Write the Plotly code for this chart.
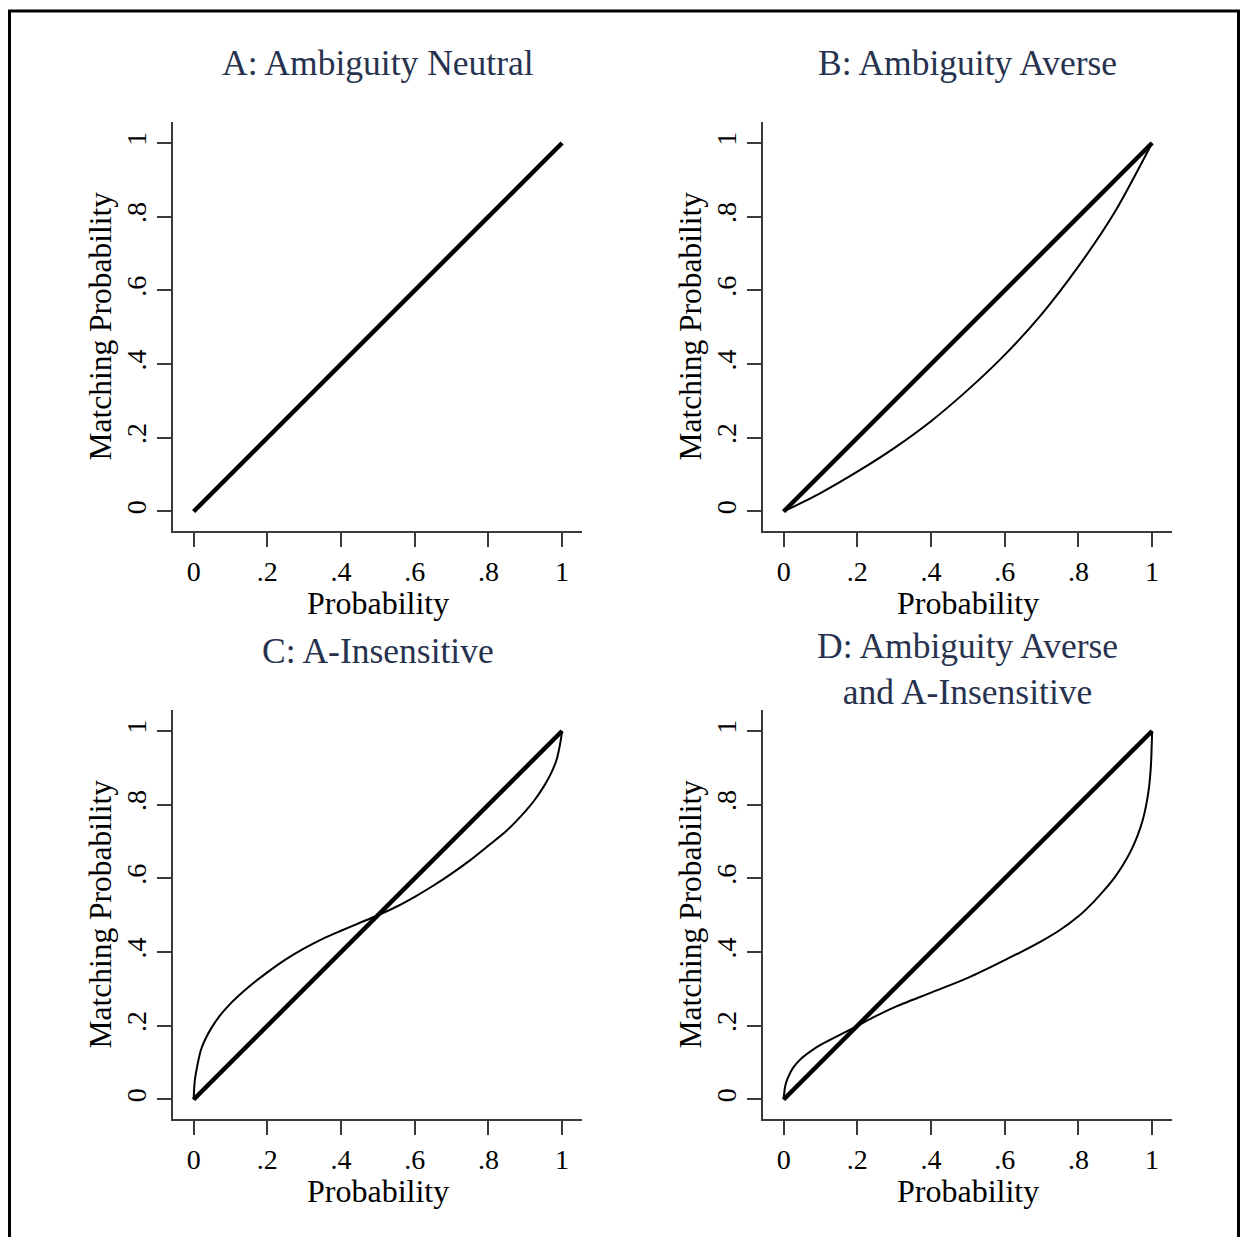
import plotly.graph_objects as go

# ---------------- data ----------------
diag_p = [0, 1]
diag_m = [0, 1]

averse_p = [0, 0.1, 0.2, 0.3, 0.4, 0.5, 0.6, 0.7, 0.8, 0.9, 1.0]
averse_m = [0, 0.05, 0.108, 0.172, 0.245, 0.33, 0.425, 0.535, 0.665, 0.815, 1.0]

insens_p = [0, 0.003, 0.01, 0.02, 0.03, 0.05, 0.075, 0.1, 0.125, 0.15, 0.2, 0.25, 0.3, 0.35,
            0.4, 0.45, 0.5, 0.55, 0.6, 0.65, 0.7, 0.75, 0.8, 0.85, 0.9, 0.925, 0.95, 0.97,
            0.985, 0.995, 1.0]
insens_m = [0, 0.05, 0.092, 0.135, 0.16, 0.197, 0.232, 0.26, 0.284, 0.306, 0.345, 0.38, 0.41, 0.436,
            0.458, 0.479, 0.5, 0.523, 0.55, 0.58, 0.613, 0.649, 0.689, 0.73, 0.782, 0.812, 0.849,
            0.885, 0.922, 0.967, 1.0]

both_p = [0, 0.004, 0.01, 0.025, 0.05, 0.075, 0.1, 0.15, 0.2, 0.25, 0.3, 0.4, 0.5, 0.6, 0.7,
          0.75, 0.8, 0.84, 0.87, 0.9, 0.92, 0.94, 0.96, 0.975, 0.985, 0.992, 0.997, 1.0]
both_m = [0, 0.035, 0.055, 0.085, 0.113, 0.132, 0.148, 0.174, 0.2, 0.226, 0.25, 0.29, 0.33,
          0.378, 0.43, 0.46, 0.497, 0.535, 0.568, 0.605, 0.635, 0.67, 0.715, 0.76, 0.805,
          0.85, 0.91, 1.0]

tick_vals = [0, 0.2, 0.4, 0.6, 0.8, 1]
tick_text = ["0", ".2", ".4", ".6", ".8", "1"]

panel_titles = ["A: Ambiguity Neutral", "B: Ambiguity Averse", "C: A-Insensitive",
                "D: Ambiguity Averse<br>and A-Insensitive"]
x_title = "Probability"
y_title = "Matching Probability"

# ---------------- layout geometry ----------------
W, H = 1241, 1237
SERIF = "Liberation Serif, Times New Roman, serif"
TITLE_COLOR = "#27324f"
AXIS_COLOR = "#3a3a3a"

def fx(px):
    return px / W

def fy(py):
    return 1 - py / H

# (axis suffix, x pixel span, y pixel span)
panels = [
    ("", (173, 582), (122, 531)),
    ("2", (763, 1172), (122, 531)),
    ("3", (173, 582), (710, 1119)),
    ("4", (763, 1172), (710, 1119)),
]

fig = go.Figure()

curves = [
    [],
    [(averse_p, averse_m)],
    [(insens_p, insens_m)],
    [(both_p, both_m)],
]

for i, (suf, (x0, x1), (y0, y1)) in enumerate(panels):
    xa = "x" + suf
    ya = "y" + suf
    for (px, pm) in curves[i]:
        fig.add_trace(go.Scatter(x=px, y=pm, mode="lines", xaxis=xa, yaxis=ya,
                                 line=dict(color="black", width=2, shape="spline", smoothing=0.8),
                                 showlegend=False, hoverinfo="skip"))
    fig.add_trace(go.Scatter(x=diag_p, y=diag_m, mode="lines", xaxis=xa, yaxis=ya,
                             line=dict(color="black", width=4.5),
                             showlegend=False, hoverinfo="skip"))

    axis_common = dict(showgrid=False, zeroline=False, showline=True, linecolor=AXIS_COLOR,
                       linewidth=2, ticks="outside", ticklen=14, tickwidth=2,
                       tickcolor=AXIS_COLOR, tickvals=tick_vals, ticktext=tick_text,
                       tickfont=dict(family=SERIF, size=28, color="black"), fixedrange=True)
    fig.layout["xaxis" + suf] = dict(axis_common, domain=[fx(x0), fx(x1)],
                                     range=[-0.056, 1.054], anchor=ya)
    fig.layout["yaxis" + suf] = dict(axis_common, domain=[fy(y1), fy(y0)],
                                     range=[-0.053, 1.057], anchor=xa, tickangle=-90)

annotations = []
def ann(text, x, y, size, color, angle=0):
    annotations.append(dict(text=text, x=fx(x), y=fy(y), xref="paper", yref="paper",
                            showarrow=False, xanchor="center", yanchor="middle",
                            textangle=angle, font=dict(family=SERIF, size=size, color=color)))

ann(panel_titles[0], 377.5, 63, 35.5, TITLE_COLOR)
ann(panel_titles[1], 967.5, 63, 35.5, TITLE_COLOR)
ann(panel_titles[2], 377.5, 651, 35.5, TITLE_COLOR)
ann(panel_titles[3], 967.5, 668.5, 35.5, TITLE_COLOR)

for cx in (377.5, 967.5):
    ann(x_title, cx, 603, 32, "black")
    ann(x_title, cx, 1191, 32, "black")
for cx in (100, 690):
    ann(y_title, cx, 326.5, 31.5, "black", angle=-90)
    ann(y_title, cx, 914.5, 31.5, "black", angle=-90)

shapes = [dict(type="path", xref="paper", yref="paper",
               path=f"M {fx(9.5)} {fy(1260)} L {fx(9.5)} {fy(11)} L {fx(1238.5)} {fy(11)} L {fx(1238.5)} {fy(1260)}",
               line=dict(color="black", width=3))]

fig.update_layout(width=W, height=H, margin=dict(l=0, r=0, t=0, b=0),
                  paper_bgcolor="white", plot_bgcolor="white",
                  annotations=annotations, shapes=shapes, showlegend=False)

fig.write_html("out.html", config={"displayModeBar": False},
               post_script="document.body.style.margin='0';document.body.style.overflow='hidden';")
